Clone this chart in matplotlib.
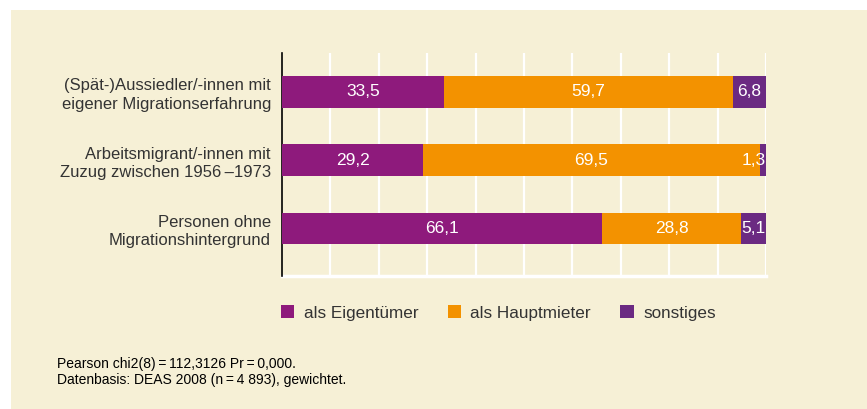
import matplotlib
matplotlib.use("Agg")
import matplotlib.pyplot as plt
from matplotlib.patches import Patch, Rectangle
import numpy as np

plt.rcParams['font.family'] = ['Liberation Sans', 'DejaVu Sans']

groups = ['(Spät-)Aussiedler/-innen mit\neigener Migrationserfahrung',
          'Arbeitsmigrant/-innen mit\nZuzug zwischen 1956\u2009\u20131973',
          'Personen ohne\nMigrationshintergrund']
eigentuemer = [33.5, 29.2, 66.1]
hauptmieter = [59.7, 69.5, 28.8]
sonstiges = [6.8, 1.3, 5.1]
series_names = ['als Eigentümer', 'als Hauptmieter', 'sonstiges']
colors = ['#8e1a7c', '#f39200', '#6b2a82']
note = ('Pearson chi2(8)\u2009=\u2009112,3126 Pr\u2009=\u20090,000.\n'
        'Datenbasis: DEAS 2008 (n\u2009=\u20094 893), gewichtet.')

bg = '#f6f0d6'
txt = '#333333'

fig = plt.figure(figsize=(8.67, 4.09), dpi=100)
fig.patch.set_facecolor('white')
fig.patches.append(Rectangle((11/867, 0), 1, 1 - 10/409, transform=fig.transFigure,
                             facecolor=bg, edgecolor='none', zorder=-10))

ax = fig.add_axes([282/867, 1 - 276/409, 484/867, 223/409])
ax.set_facecolor(bg)
ax.patch.set_alpha(0)

y = np.arange(len(groups))
data = [eigentuemer, hauptmieter, sonstiges]
left = np.zeros(len(groups))
for vals, c, name in zip(data, colors, series_names):
    vals = np.array(vals)
    ax.barh(y, vals, left=left, height=0.46, color=c, label=name, zorder=3)
    for yi, l, v in zip(y, left, vals):
        xc = min(l + v / 2, 100 - 2.6)
        ax.text(xc, yi, f'{v:.1f}'.replace('.', ','), ha='center', va='center',
                color='white', fontsize=12.5, zorder=4, clip_on=True)
    left += vals

ax.set_xlim(0, 100)
ax.set_ylim(2.70, -0.57)
ax.set_xticks(np.arange(10, 101, 10))
ax.xaxis.grid(True, color='white', lw=1.6, zorder=1)
ax.axhline(2.70, color='white', lw=2.5, zorder=1, clip_on=False)
ax.set_xticklabels([])
ax.tick_params(axis='x', length=0)
ax.tick_params(axis='y', length=0, pad=8)
ax.set_yticks(y)
ax.set_yticklabels(groups, fontsize=12, color=txt, linespacing=1.3)
for s in ['top', 'right', 'bottom']:
    ax.spines[s].set_visible(False)
ax.spines['left'].set_color('black')
ax.spines['left'].set_linewidth(1.2)

handles = [Patch(facecolor=c, edgecolor='none') for c in colors]
fig.legend(handles, series_names, loc='center left',
           bbox_to_anchor=(281/867, 1 - 313/409), ncol=3, frameon=False,
           fontsize=12.3, handlelength=0.78, handleheight=0.78, handletextpad=0.55,
           columnspacing=1.72, borderpad=0, borderaxespad=0, labelcolor=txt)

fig.text(57/867, 1 - 372/409, note, fontsize=10, color='black',
         va='center', ha='left', linespacing=1.15)

fig.savefig('out.png', dpi=100, facecolor=fig.get_facecolor())
